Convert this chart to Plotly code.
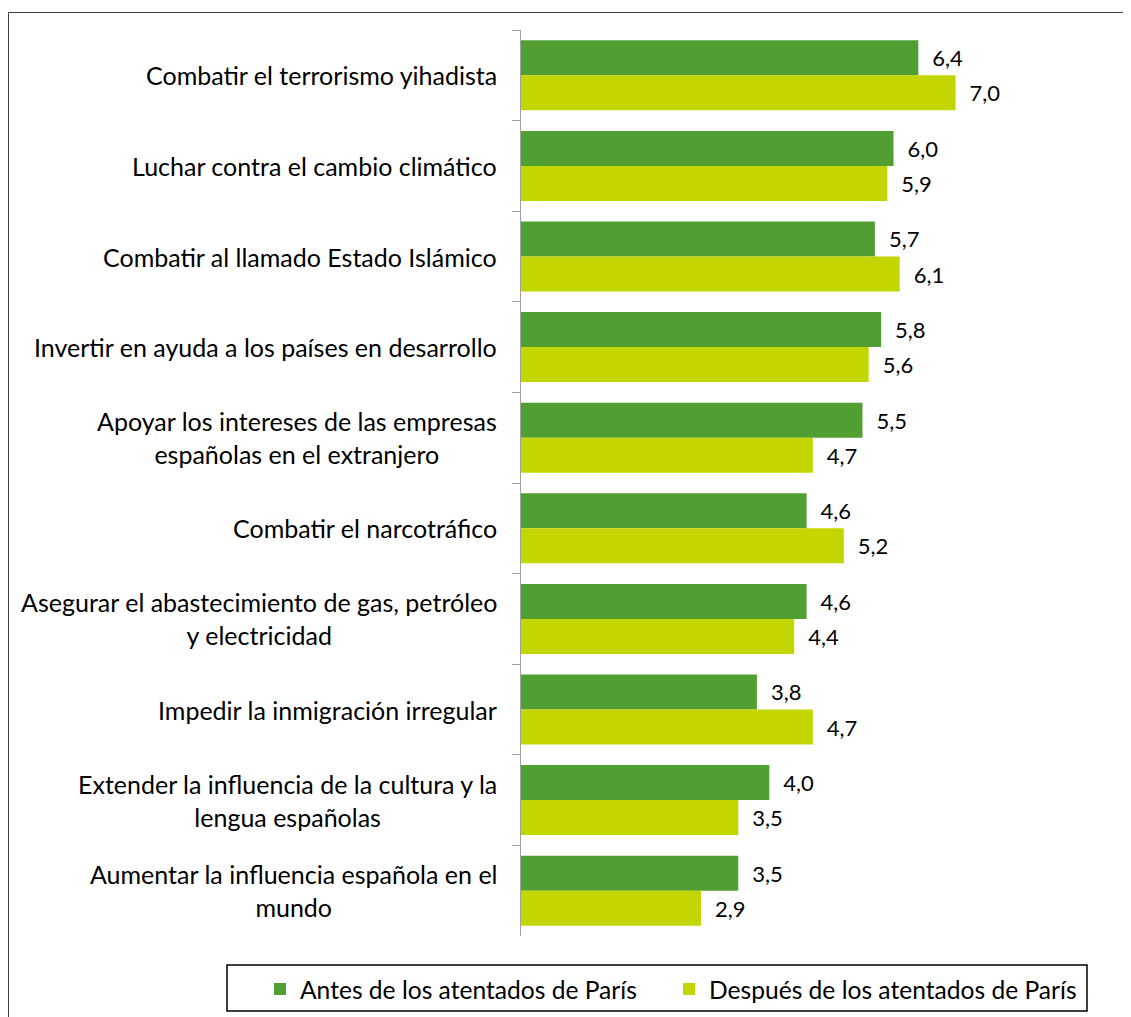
import plotly.graph_objects as go

categories = [
    "Combatir el terrorismo yihadista",
    "Luchar contra el cambio climático",
    "Combatir al llamado Estado Islámico",
    "Invertir en ayuda a los países en desarrollo",
    "Apoyar los intereses de las empresas<br>españolas en el extranjero",
    "Combatir el narcotráfico",
    "Asegurar el abastecimiento de gas, petróleo<br>y electricidad",
    "Impedir la inmigración irregular",
    "Extender la influencia de la cultura y la<br>lengua españolas",
    "Aumentar la influencia española en el<br>mundo",
]
antes = [6.4, 6.0, 5.7, 5.8, 5.5, 4.6, 4.6, 3.8, 4.0, 3.5]
despues = [7.0, 5.9, 6.1, 5.6, 4.7, 5.2, 4.4, 4.7, 3.5, 2.9]
series_names = ["Antes de los atentados de París", "Después de los atentados de París"]
colors = ["#519E33", "#C4D600"]

FONT = "Lato"
W, H = 1123, 1009
L, R, T, B = 513, 14, 22, 81
pw = W - L - R
ph = H - T - B

def fmt(v):
    return "\u2002" + f"{v:.1f}".replace(".", ",")

def px_to_paper_x(px):
    return (px - L) / pw

def px_to_paper_y(py):
    return (H - B - py) / ph

fig = go.Figure()
for i, (name, vals, col) in enumerate(zip(series_names, [antes, despues], colors)):
    fig.add_trace(go.Bar(
        y=categories, x=vals, orientation="h", name=name,
        marker=dict(color=col, line=dict(width=0)),
        text=[fmt(v) for v in vals], textposition="outside",
        textfont=dict(family=FONT, size=22, color="#000000"),
        cliponaxis=False,
        legend="legend" if i == 0 else "legend2",
    ))

annotations = []
for c in categories:
    annotations.append(dict(
        x=0, y=c, xref="x", yref="y", text=c, showarrow=False,
        xanchor="right", yanchor="middle", align="center", xshift=-22,
        font=dict(family=FONT, size=25, color="#000000"),
    ))

shapes = [
    dict(type="rect", xref="paper", yref="paper",
         x0=px_to_paper_x(0.5), x1=px_to_paper_x(1160),
         y0=px_to_paper_y(1040), y1=px_to_paper_y(4.5),
         line=dict(color="#404040", width=1), fillcolor="rgba(0,0,0,0)", layer="below"),
    dict(type="rect", xref="paper", yref="paper",
         x0=px_to_paper_x(219), x1=px_to_paper_x(1079),
         y0=px_to_paper_y(1003), y1=px_to_paper_y(957),
         line=dict(color="#000000", width=1.5), fillcolor="rgba(0,0,0,0)"),
]

leg_common = dict(orientation="h", yanchor="middle", y=px_to_paper_y(981),
                  xanchor="left", bgcolor="rgba(0,0,0,0)", borderwidth=0,
                  font=dict(family=FONT, size=24.6, color="#000000"), itemwidth=30)

fig.update_layout(
    width=W, height=H,
    margin=dict(l=L, r=R, t=T, b=B, autoexpand=False),
    paper_bgcolor="white", plot_bgcolor="white",
    barmode="group", bargap=0.227, bargroupgap=0,
    font=dict(family=FONT, size=20, color="#000000"),
    xaxis=dict(range=[0, 9.6], showgrid=False, zeroline=False, showline=False,
               showticklabels=False, ticks=""),
    yaxis=dict(autorange="reversed", showgrid=False, showline=True,
               linecolor="#A0A0A0", linewidth=1, ticks="outside", ticklen=8,
               tickcolor="#A0A0A0", tickson="boundaries", showticklabels=False),
    showlegend=True,
    legend=dict(x=px_to_paper_x(252), **leg_common),
    legend2=dict(x=px_to_paper_x(661), **leg_common),
    annotations=annotations, shapes=shapes,
)

fig.write_html("out.html")
